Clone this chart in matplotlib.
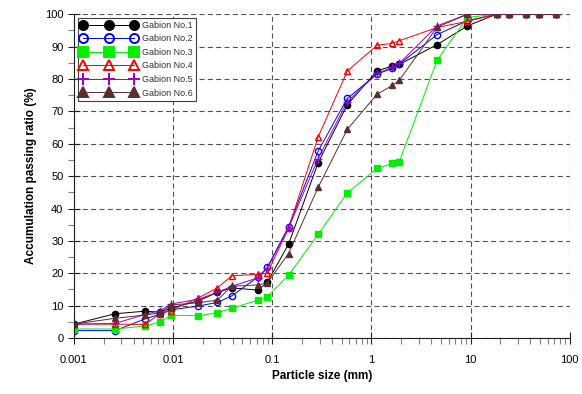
import matplotlib
matplotlib.use("Agg")
import matplotlib.pyplot as plt
from matplotlib.ticker import LogLocator, MultipleLocator, FixedLocator, FixedFormatter

plt.rcParams['font.family'] = ['Liberation Sans', 'DejaVu Sans']

# particle sizes (mm), shared by all six gabions
sizes = [0.001, 0.0026, 0.0052, 0.0074, 0.0095, 0.018, 0.028, 0.039, 0.072, 0.089,
         0.146, 0.29, 0.57, 1.14, 1.63, 1.91, 4.6, 9.3, 18.3, 24.2, 36.6, 48.6, 72]

gabion1 = [4.3, 7.5, 8.3, 8.0, 9.2, 11.5, 14.1, 15.5, 14.8, 17.2, 29.0, 54.1, 72.0,
           82.5, 84.0, 84.5, 90.6, 96.4, 100, 100, 100, 100, 100]
gabion2 = [2.3, 2.3, 5.9, 7.4, 8.7, 9.9, 11.0, 13.0, 18.9, 21.8, 34.4, 57.7, 74.0,
           81.5, 83.3, 84.6, 93.7, 98.0, 100, 100, 100, 100, 100]
gabion3 = [2.8, 2.8, 3.7, 5.0, 7.0, 6.9, 7.8, 9.2, 11.7, 12.7, 19.4, 32.0, 44.8,
           52.4, 53.9, 54.5, 85.8, 99.0, 100, 100, 100, 100, 100]
gabion4 = [4.3, 4.3, 4.2, 7.5, 8.5, 12.4, 15.5, 19.2, 19.7, 20.0, 33.9, 62.1, 82.4,
           90.4, 91.0, 91.8, 95.9, 97.8, 100, 100, 100, 100, 100]
gabion5 = [4.3, 4.5, 7.3, 8.5, 10.5, 12.0, 14.1, 16.0, 18.6, 21.5, 34.0, 55.4, 73.0,
           81.7, 83.6, 84.8, 96.4, 100, 100, 100, 100, 100, 100]
gabion6 = [4.3, 6.1, 7.1, 7.8, 10.2, 10.9, 11.7, 16.0, 16.4, 17.0, 26.1, 46.5, 64.4,
           75.3, 78.0, 79.6, 96.0, 100, 100, 100, 100, 100, 100]

labels = ['Gabion No.1', 'Gabion No.2', 'Gabion No.3', 'Gabion No.4', 'Gabion No.5', 'Gabion No.6']
x_ticks = [0.001, 0.01, 0.1, 1, 10, 100]
x_ticklabels = ['0.001', '0.01', '0.1', '1', '10', '100']

fig = plt.figure(figsize=(5.82, 3.94), dpi=100)
ax = fig.add_axes([0.127, 0.142, 0.852, 0.822])

styles = [
    dict(color='#000000', marker='o', mfc='#000000', mec='#000000', ms=4.5),
    dict(color='#0000ff', marker='o', mfc='none', mec='#0000ff', ms=4.5),
    dict(color='#00ee00', marker='s', mfc='#00ee00', mec='#00ee00', ms=4.5),
    dict(color='#ff0000', marker='^', mfc='none', mec='#ff0000', ms=4.5),
    dict(color='#9900cc', marker='+', mfc='#9900cc', mec='#9900cc', ms=6),
    dict(color='#5a2e2e', marker='^', mfc='#5a2e2e', mec='#5a2e2e', ms=4.5),
]
series = [gabion1, gabion2, gabion3, gabion4, gabion5, gabion6]
for vals, lab, st in zip(series, labels, styles):
    ax.plot(sizes, vals, label=lab, lw=0.7, mew=1.0, **st)

ax.set_xscale('log')
ax.set_xlim(0.001, 100)
ax.set_ylim(0, 100)
ax.xaxis.set_major_locator(FixedLocator(x_ticks))
ax.xaxis.set_major_formatter(FixedFormatter(x_ticklabels))
ax.xaxis.set_minor_locator(LogLocator(base=10, subs=range(2, 10)))
ax.yaxis.set_major_locator(MultipleLocator(10))
ax.yaxis.set_minor_locator(MultipleLocator(5))

ax.grid(True, which='major', color='#505050', linestyle=(0, (4.5, 3)), linewidth=0.8)
ax.set_axisbelow(True)
for s in ['top', 'right']:
    ax.spines[s].set_visible(False)
for s in ['left', 'bottom']:
    ax.spines[s].set_color('#202020')
    ax.spines[s].set_linewidth(0.8)

ax.tick_params(which='major', direction='inout', length=8, width=0.8, colors='#202020', labelsize=8, labelcolor='black')
ax.tick_params(which='minor', direction='out', length=4, width=0.8, colors='#808080')
ax.tick_params(axis='x', which='major', pad=8)

ax.set_xlabel('Particle size (mm)', fontsize=8.5, fontweight='bold', labelpad=4)
ax.set_ylabel('Accumulation passing ratio (%)', fontsize=8.5, fontweight='bold', labelpad=6)

leg = ax.legend(loc='upper left', numpoints=3, markerscale=1.45, fontsize=6.5, frameon=True,
                fancybox=False, edgecolor='#404040', framealpha=1, borderpad=0.35,
                labelspacing=0.5, handlelength=6.2, handletextpad=0.6,
                borderaxespad=0.4, bbox_to_anchor=(0.0, 1.0))
leg.get_frame().set_linewidth(0.8)
for t in leg.get_texts():
    t.set_color('#303030')
for h in leg.legend_handles:
    h.set_markeredgewidth(1.4)

fig.savefig('out.png', dpi=100)
